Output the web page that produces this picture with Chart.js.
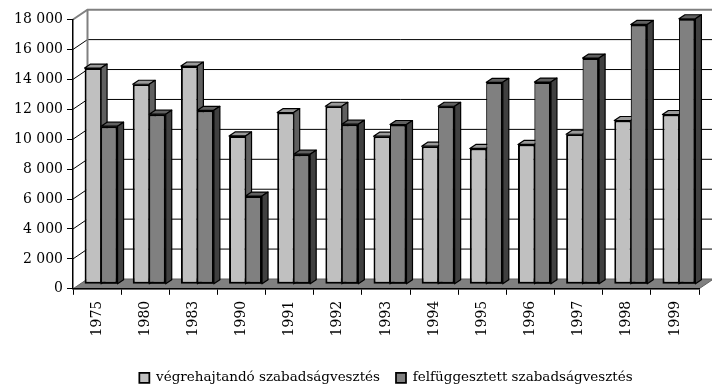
<!DOCTYPE html>
<html>
<head>
<meta charset="utf-8">
<script src="https://cdn.jsdelivr.net/npm/chart.js@4/dist/chart.umd.min.js"></script>
<style>
  html, body { margin: 0; padding: 0; background: #fff; }
  #wrap { width: 712px; height: 386px; }
</style>
</head>
<body>
<div id="wrap"><canvas id="c" width="712" height="386"></canvas></div>
<script>
// Years on the category axis
const years = ['1975', '1980', '1983', '1990', '1991', '1992', '1993', '1994', '1995', '1996', '1997', '1998', '1999'];
// Sentences to be served (cases)
const vegrehajtando = [14450, 13370, 14590, 9920, 11480, 11900, 9900, 9230, 9080, 9350, 10030, 10950, 11350];
// Suspended sentences (cases)
const felfuggesztett = [10570, 11370, 11630, 5900, 8700, 10700, 10680, 11900, 13500, 13520, 15120, 17370, 17750];
const seriesNames = ['végrehajtandó szabadságvesztés', 'felfüggesztett szabadságvesztés'];
const yMax = 18000;
const yStep = 2000;

// Perspective offsets for the walls/floor and for the bar blocks
const WALL_DX = 14.5, WALL_DY = -9.8;
const PLANE_DX = 4, PLANE_DY = -4.5;
const BLOCK_DX = 6, BLOCK_DY = -4;

const faceColors = [
  { top: '#9a9a9a', side: '#606060' },
  { top: '#606060', side: '#404040' }
];

const fmt = v => String(v).replace(/\B(?=(\d{3})+(?!\d))/g, ' ');

// Back wall, side wall and floor of the 3D box
const wallsPlugin = {
  id: 'walls',
  beforeDraw(chart) {
    const { ctx, chartArea: a, scales: { y } } = chart;
    ctx.save();
    // floor
    ctx.beginPath();
    ctx.moveTo(a.left, a.bottom);
    ctx.lineTo(a.right, a.bottom);
    ctx.lineTo(a.right + WALL_DX, a.bottom + WALL_DY);
    ctx.lineTo(a.left + WALL_DX, a.bottom + WALL_DY);
    ctx.closePath();
    ctx.fillStyle = '#808080';
    ctx.fill();
    ctx.strokeStyle = '#606060';
    ctx.lineWidth = 1;
    ctx.stroke();
    // gridlines on side wall + back wall
    y.ticks.forEach(t => {
      if (t.value === 0) return;
      const py = y.getPixelForValue(t.value);
      const edge = t.value === y.max;
      ctx.beginPath();
      ctx.moveTo(a.left, py);
      ctx.lineTo(a.left + WALL_DX, py + WALL_DY);
      ctx.lineTo(a.right + WALL_DX + 20, py + WALL_DY);
      ctx.strokeStyle = edge ? '#808080' : '#000';
      ctx.lineWidth = edge ? 2 : 1;
      ctx.stroke();
    });
    // back corner edge
    ctx.beginPath();
    ctx.moveTo(a.left + WALL_DX, a.top + WALL_DY);
    ctx.lineTo(a.left + WALL_DX, a.bottom + WALL_DY);
    ctx.strokeStyle = '#808080';
    ctx.lineWidth = 2;
    ctx.stroke();
    ctx.restore();
  }
};

function drawFaces(ctx, bar, col) {
  const { x, y, base, width } = bar.getProps(['x', 'y', 'base', 'width'], true);
  const x1 = x - width / 2, x2 = x + width / 2;
  ctx.save();
  ctx.lineJoin = 'round';
  ctx.strokeStyle = '#000';
  ctx.lineWidth = 1.2;
  // top face
  ctx.beginPath();
  ctx.moveTo(x1, y);
  ctx.lineTo(x1 + BLOCK_DX, y + BLOCK_DY);
  ctx.lineTo(x2 + BLOCK_DX, y + BLOCK_DY);
  ctx.lineTo(x2, y);
  ctx.closePath();
  ctx.fillStyle = col.top;
  ctx.fill();
  ctx.stroke();
  // side face
  ctx.beginPath();
  ctx.moveTo(x2, y);
  ctx.lineTo(x2 + BLOCK_DX, y + BLOCK_DY);
  ctx.lineTo(x2 + BLOCK_DX, base + BLOCK_DY);
  ctx.lineTo(x2, base);
  ctx.closePath();
  ctx.fillStyle = col.side;
  ctx.fill();
  ctx.stroke();
  ctx.restore();
}

// Bars sit a little behind the front plane; add top and side faces,
// painting the left series first so the right series overlaps it
const blocksPlugin = {
  id: 'blocks',
  beforeDatasetsDraw(chart) {
    chart.ctx.save();
    chart.ctx.translate(PLANE_DX, PLANE_DY);
  },
  afterDatasetsDraw(chart) {
    const ctx = chart.ctx;
    const n = chart.data.datasets.length;
    for (let i = 0; i < n; i++) {
      const meta = chart.getDatasetMeta(i);
      if (i > 0) meta.data.forEach(bar => bar.draw(ctx));
      meta.data.forEach(bar => drawFaces(ctx, bar, faceColors[i]));
    }
    ctx.restore();
  }
};

new Chart(document.getElementById('c'), {
  type: 'bar',
  data: {
    labels: years,
    datasets: [
      {
        label: seriesNames[0],
        data: vegrehajtando,
        backgroundColor: '#c0c0c0',
        borderColor: '#000',
        borderWidth: { top: 2, left: 2, bottom: 2, right: 1 },
        borderSkipped: false,
        clip: false
      },
      {
        label: seriesNames[1],
        data: felfuggesztett,
        backgroundColor: '#808080',
        borderColor: '#000',
        borderWidth: { top: 2, left: 1, bottom: 2, right: 2 },
        borderSkipped: false,
        clip: false
      }
    ]
  },
  options: {
    responsive: false,
    animation: false,
    devicePixelRatio: 1,
    categoryPercentage: 0.685,
    barPercentage: 1.0,
    layout: { padding: { top: 19.5, right: 13, bottom: -8.5, left: 0 } },
    plugins: {
      tooltip: { enabled: false },
      legend: {
        position: 'bottom',
        fullSize: false,
        labels: {
          boxWidth: 10,
          boxHeight: 10,
          padding: 16,
          color: '#000',
          font: { family: 'DejaVu Serif', size: 13.5 }
        }
      }
    },
    scales: {
      x: {
        grid: { display: true, drawOnChartArea: false, drawTicks: true, tickLength: 6, color: '#000', offset: true },
        border: { display: true, color: '#000', width: 1.5 },
        ticks: {
          autoSkip: false,
          minRotation: 90,
          maxRotation: 90,
          padding: 6,
          color: '#000',
          font: { family: 'DejaVu Serif', size: 14 }
        },
        afterFit(scale) { scale.height = 66.2; }
      },
      y: {
        min: 0,
        max: yMax,
        grid: { display: true, drawOnChartArea: false, drawTicks: true, tickLength: 6, color: '#000' },
        border: { display: true, color: '#000', width: 1.5 },
        ticks: {
          stepSize: yStep,
          padding: 4,
          color: '#000',
          font: { family: 'DejaVu Serif', size: 14 },
          callback: v => fmt(v)
        },
        afterFit(scale) { scale.width = 73; }
      }
    }
  },
  plugins: [wallsPlugin, blocksPlugin]
});
</script>
</body>
</html>
